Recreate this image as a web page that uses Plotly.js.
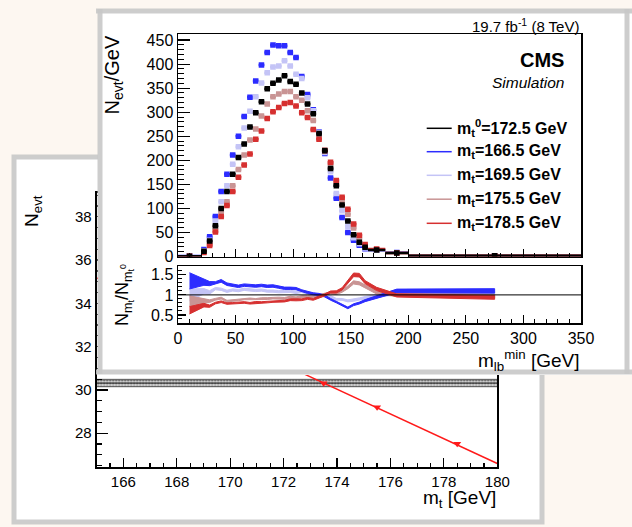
<!DOCTYPE html>
<html><head><meta charset="utf-8">
<script src="https://cdn.plot.ly/plotly-3.0.1.min.js"></script>
<style>html,body{margin:0;padding:0;background:#fdf7f1;}#plot{width:632px;height:527px;}</style>
</head><body><div id="plot"></div>
<script>
// ---------------- DATA ----------------
// m_lb^min binning (GeV)
const binEdges = [0,20,25,30,35,40,45,50,55,60,65,70,75,80,85,90,95,100,105,110,115,120,125,130,135,140,145,150,155,160,165,180,200,350];
// N_evt/GeV per bin
const nom1725 = [0.6,11,32,64,100,135,171,206,234,269,299,322,349,360,367,376,364,358,340,317,297,256,220,183,147,107,74,45,29.5,19,13.5,7.5,1.6];
const mt1665  = [0.81,14.5,41,83,135,171,211,250,291,331,365,398,424,440,438,438,424,414,374,337,305,259,214,163,121,81,50,34,23.5,16.3,12.8,8.25,1.76];
const mt1695  = [0.6,12,34,74,114,147,192,228,267,302,332,361,382,394,396,407,396,379,370,330,303,258,216,176,131,95,63,39,26.5,17.7,13.2,7.8,1.66];
const mt1755  = [0.51,9.4,27,57,92,114,147,181,211,242,265,292,317,332,338,343,343,332,325,303,283,252,222,192,152,117,88,59,38,23,14.3,7.5,1.55];
const mt1785  = [0.37,8.2,23,51,83,106,135,165,190,213,244,261,287,301,310,318,320,313,299,289,264,244,220,196,158,123,98,67.5,44,25,15.5,7.4,1.5];
const yErr    = [0.4,2,3,3,4,4,4,4,4,4,4,4,4,4,4,4,4,4,4,4,4,4,4,4,4,3,3,2.5,2,2,1,0.7,0.3];
// relative half-width of ratio bands
const ratioRelErr = [0.15,0.06,0.04,0.025,0.025,0.025,0.025,0.025,0.025,0.025,0.025,0.025,0.025,0.025,0.025,0.025,0.025,0.025,0.025,0.025,0.025,0.025,0.025,0.025,0.025,0.025,0.03,0.03,0.03,0.03,0.035,0.04,0.05];
const seriesLabels = ["m<sub>t</sub><sup>0</sup>=172.5 GeV","m<sub>t</sub>=166.5 GeV","m<sub>t</sub>=169.5 GeV","m<sub>t</sub>=175.5 GeV","m<sub>t</sub>=178.5 GeV"];
const seriesColors = ["#000000","#2c2cff","#c4c4f6","#c99494","#d63030"];

// background plot: N_evt vs m_t
const mtPointsX = [173.5,175.5,178.5];
const mtPointsY = [30.31,29.2,27.51];
const mtFitX = [165,180];
const mtFitY = [35.18,26.6];
const bandX = [165,180];
const bandLow = [30.15,30.15];
const bandHigh = [30.49,30.49];
const bandCentral = [30.32,30.32];

// ---------------- LAYOUT HELPERS ----------------
const W = 632, H = 527;
const px = x => x / W, py = y => 1 - y / H;
const FONT = "Liberation Sans, Arial, Helvetica, sans-serif";

const centers = [], halfW = [];
for (let i = 0; i < binEdges.length - 1; i++) {
  centers.push((binEdges[i] + binEdges[i+1]) / 2);
  halfW.push((binEdges[i+1] - binEdges[i]) / 2);
}
const allSeries = [nom1725, mt1665, mt1695, mt1755, mt1785];

const traces = [];
// ---- background plot (xy) ----
traces.push({x: bandX, y: bandLow, xaxis:'x', yaxis:'y', mode:'lines', line:{color:'#555', width:1}, hoverinfo:'skip'});
traces.push({x: bandX, y: bandHigh, xaxis:'x', yaxis:'y', mode:'lines', line:{color:'#555', width:1}, fill:'tonexty',
  fillcolor:'#bdbdbd', fillpattern:{shape:'.', fgcolor:'#555', bgcolor:'#d8d8d8', size:3, solidity:0.4}, hoverinfo:'skip'});
traces.push({x: bandX, y: bandCentral, xaxis:'x', yaxis:'y', mode:'lines', line:{color:'#222', width:1}});
traces.push({x: mtFitX, y: mtFitY, xaxis:'x', yaxis:'y', mode:'lines', line:{color:'#ff1a1a', width:1.5}});
traces.push({x: mtPointsX, y: mtPointsY, xaxis:'x', yaxis:'y', mode:'markers', marker:{symbol:'triangle-down', size:7, color:'#ff1a1a'}});

// ---- cover: the top photo frame (x2y2, pixel coordinates) ----
const coverX = [98, 640, 640, 98, 98];
const coverY = [11, 11, 375, 375, 11];
traces.push({x: coverX, y: coverY, xaxis:'x2', yaxis:'y2', mode:'lines', fill:'toself', fillcolor:'#ffffff', line:{width:0}});
traces.push({x:[96,632,null,100,100,null,96,632,null,627,627], y:[11,11,null,9,374,null,372,372,null,9,374],
  xaxis:'x2', yaxis:'y2', mode:'lines', line:{color:'rgba(200,200,200,0.9)', width:5}});

// ---- CMS main panel (x3y3) ----
const drawOrder = [1,2,3,4,0];
drawOrder.forEach(k => {
  traces.push({x: centers, y: allSeries[k], xaxis:'x3', yaxis:'y3', mode:'markers',
    marker:{symbol:'square', size:5.5, color:seriesColors[k], line:{width:0}},
    error_x:{type:'data', array:halfW, symmetric:true, width:0, thickness:2.5, color:seriesColors[k]},
    error_y:{type:'data', array:yErr, width:0, thickness:2, color:seriesColors[k]}, cliponaxis:true});
});

// ---- ratio panel (x4y4) ----
[2,3,1,4].forEach(k => {
  const up = [], lo = [];
  allSeries[k].forEach((v, i) => {
    const r = v / nom1725[i];
    up.push(r * (1 + ratioRelErr[i]));
    lo.push(r * (1 - ratioRelErr[i]));
  });
  traces.push({x: centers.concat(centers.slice().reverse()), y: up.concat(lo.reverse()),
    xaxis:'x4', yaxis:'y4', mode:'lines', fill:'toself', fillcolor:seriesColors[k],
    line:{color:seriesColors[k], width:1}});
});

// ---------------- AXES ----------------
const rootAxis = (o) => Object.assign({showgrid:false, zeroline:false, showline:true, linecolor:'#000', linewidth:1.5,
  ticks:'inside', tickcolor:'#000', tickwidth:1.2, mirror:true, fixedrange:true,
  tickfont:{family:FONT, size:16, color:'#000'}}, o);

const layout = {
  width: W, height: H, margin:{l:0, r:0, t:0, b:0},
  paper_bgcolor:'#fdf7f1', plot_bgcolor:'rgba(0,0,0,0)', showlegend:false,
  xaxis: rootAxis({domain:[px(96.6), px(497.3)], range:[165,180], anchor:'y', dtick:2, ticklen:9, linewidth:2,
    minor:{dtick:0.5, ticklen:4.5, ticks:'inside', tickcolor:'#000', tickwidth:1.2}, tickfont:{family:FONT, size:15, color:'#000'}}),
  yaxis: rootAxis({domain:[py(467), py(193)], range:[26.44,39.10], anchor:'x', dtick:2, ticklen:11, linewidth:2,
    minor:{dtick:0.5, ticklen:5.5, ticks:'inside', tickcolor:'#000', tickwidth:1.2}, tickfont:{family:FONT, size:15, color:'#000'}}),
  xaxis2: {domain:[0,1], range:[0,W], visible:false, anchor:'y2', fixedrange:true},
  yaxis2: {domain:[0,1], range:[H,0], visible:false, anchor:'x2', fixedrange:true},
  xaxis3: rootAxis({domain:[px(178), px(581)], range:[0,350], anchor:'y3', dtick:50, ticklen:8, showticklabels:false,
    minor:{dtick:10, ticklen:4, ticks:'inside', tickcolor:'#000', tickwidth:1}}),
  yaxis3: rootAxis({domain:[py(256.5), py(34.3)], range:[0,462], anchor:'x3', dtick:50, ticklen:12,
    minor:{dtick:10, ticklen:6, ticks:'inside', tickcolor:'#000', tickwidth:1}}),
  xaxis4: rootAxis({domain:[px(178), px(581)], range:[0,350], anchor:'y4', dtick:50, ticklen:8,
    minor:{dtick:10, ticklen:4, ticks:'inside', tickcolor:'#000', tickwidth:1}}),
  yaxis4: rootAxis({domain:[py(323), py(266)], range:[0.3,1.72], anchor:'x4', dtick:0.5, tick0:0, ticklen:8,
    minor:{dtick:0.1, ticklen:4, ticks:'inside', tickcolor:'#000', tickwidth:1}}),
  shapes: [
    {type:'rect', xref:'paper', yref:'paper', x0:px(14), x1:px(542), y0:py(522), y1:py(157), layer:'below',
     fillcolor:'#ffffff', line:{color:'rgba(200,200,200,0.9)', width:5}},
    {type:'line', xref:'x4', yref:'y4', x0:0, x1:350, y0:1, y1:1, line:{color:'#000', width:1}, layer:'above'}
  ],
  annotations: []
};

// legend (text + line samples)
const legendRows = [128.3, 151.7, 175.3, 199.2, 223.3];
seriesLabels.forEach((lab, k) => {
  layout.annotations.push({xref:'paper', yref:'paper', x:px(455), y:py(legendRows[k]), xanchor:'left', yanchor:'middle',
    text:'<b>'+lab+'</b>', showarrow:false, font:{family:FONT, size:16, color:'#000'}});
  layout.shapes.push({type:'line', xref:'paper', yref:'paper', x0:px(426.7), x1:px(451.7), y0:py(legendRows[k]), y1:py(legendRows[k]),
    line:{color:seriesColors[k], width:1.5}, layer:'above'});
});

const ann = (x, y, text, size, xa, ya, extra) => layout.annotations.push(Object.assign({xref:'paper', yref:'paper', x:px(x), y:py(y),
  text, showarrow:false, xanchor:xa, yanchor:ya, font:{family:FONT, size, color:'#000'}}, extra||{}));
ann(581, 26, '19.7 fb<sup>-1</sup> (8 TeV)', 15, 'right', 'middle');
ann(566, 60, '<b>CMS</b>', 20, 'right', 'middle');
ann(566, 83, '<i>Simulation</i>', 15.5, 'right', 'middle');
ann(113, 34, 'N<sub>evt</sub>/GeV', 20, 'center', 'top', {textangle:-90});
ann(124, 295, 'N<sub>m<sub>t</sub></sub>/N<sub>m<sub>t</sub><sup>0</sup></sub>', 18, 'center', 'middle', {textangle:-90});
ann(581, 360, 'm<sub>lb</sub><sup>min</sup> [GeV]', 19, 'right', 'middle');
ann(33, 193, 'N<sub>evt</sub>', 19, 'center', 'top', {textangle:-90});
ann(498, 499, 'm<sub>t</sub> [GeV]', 19, 'right', 'middle');

Plotly.newPlot('plot', traces, layout, {staticPlot:true, displayModeBar:false});
</script>
</body></html>
